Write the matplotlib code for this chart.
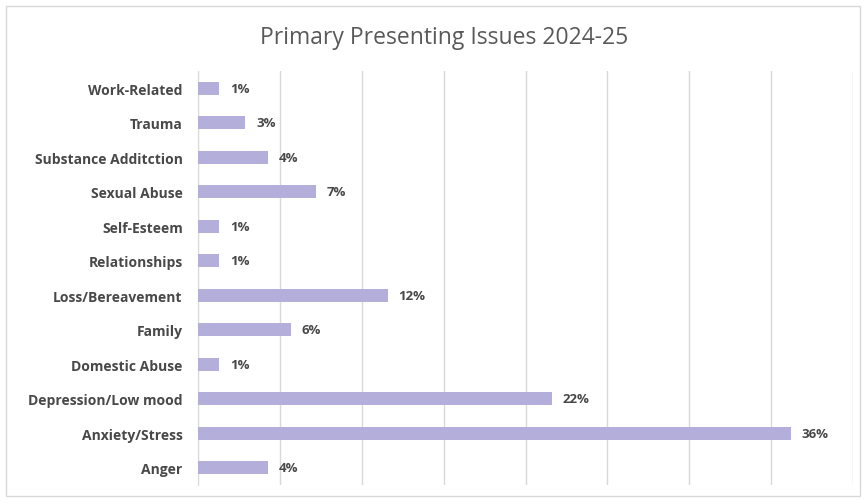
import matplotlib
matplotlib.use("Agg")
import matplotlib.pyplot as plt
from matplotlib.patches import Rectangle

categories = ["Anger", "Anxiety/Stress", "Depression/Low mood", "Domestic Abuse", "Family",
              "Loss/Bereavement", "Relationships", "Self-Esteem", "Sexual Abuse",
              "Substance Additction", "Trauma", "Work-Related"]
values = [4.3, 36.2, 21.6, 1.3, 5.7, 11.6, 1.3, 1.3, 7.2, 4.3, 2.9, 1.3]
labels = ["4%", "36%", "22%", "1%", "6%", "12%", "1%", "1%", "7%", "4%", "3%", "1%"]
title = "Primary Presenting Issues 2024-25"

plt.rcParams['font.family'] = ['Open Sans', 'DejaVu Sans']

fig = plt.figure(figsize=(8.64, 5.02), dpi=100)
fig.patches.append(Rectangle((6/864, 5/502), 854/864, 490/502, transform=fig.transFigure,
                             fill=False, edgecolor="#d9d9d9", linewidth=1.0))
ax = fig.add_axes([198/864, 16/502, 655/864, 414/502])

y = list(range(len(categories)))
ax.barh(y, values, height=0.37, color="#b4aedb", zorder=3)
for yi, v, lab in zip(y, values, labels):
    ax.text(v + 0.65, yi, lab, va="center", ha="left", fontsize=9.5,
            color="#484848", fontweight="bold")

ax.set_xlim(0, 40)
ax.set_ylim(-0.5, len(categories) - 0.5)
ax.set_xticks(range(0, 41, 5))
ax.set_xticklabels([])
ax.tick_params(axis="x", length=0)
ax.tick_params(axis="y", length=0, pad=11)
ax.set_yticks(y)
ax.set_yticklabels(categories, fontsize=10, color="#484848", fontweight="bold")
ax.grid(axis="x", color="#d9d9d9", linewidth=1.0, zorder=0)
for s in ["top", "right", "bottom"]:
    ax.spines[s].set_visible(False)
ax.spines["left"].set_color("#d9d9d9")

fig.text(444/864, 1 - 38/502, title, ha="center", va="center", fontsize=16.5, color="#595959")

fig.savefig("out.png", dpi=100)
